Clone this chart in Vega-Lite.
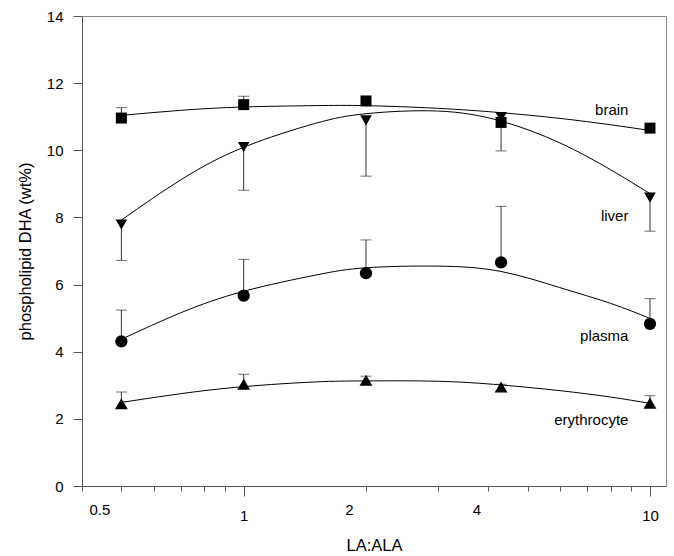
{
  "$schema": "https://vega.github.io/schema/vega-lite/v6.json",
  "width": 584,
  "height": 470,
  "autosize": {"type": "none"},
  "padding": {"left": 82, "top": 16, "right": 8, "bottom": 70},
  "background": "white",
  "config": {
    "view": {"stroke": "#888", "strokeWidth": 1},
    "font": "Liberation Sans",
    "axis": {"grid": false, "domainColor": "#555", "tickColor": "#555", "labelColor": "#000", "titleColor": "#000", "labelFontSize": 15, "titleFontSize": 16.5, "titleFontWeight": "normal", "labelFont": "Liberation Sans", "titleFont": "Liberation Sans"}
  },
  "datasets": {
    "points": [
      {"series": "brain", "x": 0.5, "y": 10.96, "err": 11.27},
      {"series": "brain", "x": 1, "y": 11.36, "err": 11.61},
      {"series": "brain", "x": 2, "y": 11.47, "err": null},
      {"series": "brain", "x": 4.3, "y": 10.83, "err": null},
      {"series": "brain", "x": 10, "y": 10.66, "err": null},
      {"series": "liver", "x": 0.5, "y": 7.79, "err": 6.72},
      {"series": "liver", "x": 1, "y": 10.1, "err": 8.81},
      {"series": "liver", "x": 2, "y": 10.89, "err": 9.23},
      {"series": "liver", "x": 4.3, "y": 10.99, "err": 9.98},
      {"series": "liver", "x": 10, "y": 8.59, "err": 7.59},
      {"series": "plasma", "x": 0.5, "y": 4.31, "err": 5.24},
      {"series": "plasma", "x": 1, "y": 5.67, "err": 6.75},
      {"series": "plasma", "x": 2, "y": 6.34, "err": 7.33},
      {"series": "plasma", "x": 4.3, "y": 6.66, "err": 8.33},
      {"series": "plasma", "x": 10, "y": 4.83, "err": 5.58},
      {"series": "erythrocyte", "x": 0.5, "y": 2.45, "err": 2.8},
      {"series": "erythrocyte", "x": 1, "y": 3.03, "err": 3.33},
      {"series": "erythrocyte", "x": 2, "y": 3.15, "err": 3.27},
      {"series": "erythrocyte", "x": 4.3, "y": 2.95, "err": 3.03},
      {"series": "erythrocyte", "x": 10, "y": 2.47, "err": 2.69}
    ],
    "curves": [
      {"series": "brain", "x": 0.5, "y": 11.04},
      {"series": "brain", "x": 0.7, "y": 11.19},
      {"series": "brain", "x": 1, "y": 11.29},
      {"series": "brain", "x": 1.5, "y": 11.33},
      {"series": "brain", "x": 2, "y": 11.33},
      {"series": "brain", "x": 3, "y": 11.25},
      {"series": "brain", "x": 4.3, "y": 11.12},
      {"series": "brain", "x": 6, "y": 10.95},
      {"series": "brain", "x": 8, "y": 10.76},
      {"series": "brain", "x": 10, "y": 10.59},
      {"series": "liver", "x": 0.5, "y": 7.92},
      {"series": "liver", "x": 0.7, "y": 9.12},
      {"series": "liver", "x": 1, "y": 10.09},
      {"series": "liver", "x": 1.5, "y": 10.8},
      {"series": "liver", "x": 2, "y": 11.09},
      {"series": "liver", "x": 3, "y": 11.17},
      {"series": "liver", "x": 4.3, "y": 10.87},
      {"series": "liver", "x": 6, "y": 10.22},
      {"series": "liver", "x": 8, "y": 9.42},
      {"series": "liver", "x": 10, "y": 8.71},
      {"series": "plasma", "x": 0.5, "y": 4.37},
      {"series": "plasma", "x": 0.7, "y": 5.16},
      {"series": "plasma", "x": 1, "y": 5.8},
      {"series": "plasma", "x": 1.5, "y": 6.28},
      {"series": "plasma", "x": 2, "y": 6.5},
      {"series": "plasma", "x": 3, "y": 6.55},
      {"series": "plasma", "x": 4.3, "y": 6.39},
      {"series": "plasma", "x": 6, "y": 5.91},
      {"series": "plasma", "x": 8, "y": 5.44},
      {"series": "plasma", "x": 10, "y": 4.99},
      {"series": "erythrocyte", "x": 0.5, "y": 2.49},
      {"series": "erythrocyte", "x": 0.7, "y": 2.75},
      {"series": "erythrocyte", "x": 1, "y": 2.96},
      {"series": "erythrocyte", "x": 1.5, "y": 3.1},
      {"series": "erythrocyte", "x": 2, "y": 3.13},
      {"series": "erythrocyte", "x": 3, "y": 3.12},
      {"series": "erythrocyte", "x": 4.3, "y": 3.01},
      {"series": "erythrocyte", "x": 6, "y": 2.84},
      {"series": "erythrocyte", "x": 8, "y": 2.65},
      {"series": "erythrocyte", "x": 10, "y": 2.46}
    ],
    "labels": [
      {"text": "brain", "x": 8.85, "y": 11.06},
      {"text": "liver", "x": 8.85, "y": 7.89},
      {"text": "plasma", "x": 8.85, "y": 4.33},
      {"text": "erythrocyte", "x": 8.85, "y": 1.81}
    ]
  },
  "encoding": {
    "x": {
      "field": "x", "type": "quantitative",
      "scale": {"type": "log", "domain": [0.4, 10.95], "nice": false},
      "axis": {
        "title": "LA:ALA",
        "values": [0.4, 0.5, 0.6, 0.7, 0.8, 0.9, 1, 2, 3, 4, 5, 6, 7, 8, 9, 10],
        "format": "~g",
        "labelExpr": "(datum.value == 0.5 || datum.value == 1 || datum.value == 2 || datum.value == 4 || datum.value == 10) ? datum.label : ''",
        "labelFlush": false,
        "labelOverlap": false,
        "tickSize": {"condition": {"test": "datum.value == 1 || datum.value == 10", "value": 10}, "value": 5},
        "labelOffset": {"condition": [{"test": "datum.value == 0.5", "value": -22}, {"test": "datum.value == 2", "value": -17}, {"test": "datum.value == 4", "value": -12}], "value": 0},
        "labelPadding": {"condition": {"test": "datum.value == 1 || datum.value == 10", "value": 12}, "value": 11},
        "titlePadding": 14
      }
    },
    "y": {
      "field": "y", "type": "quantitative",
      "scale": {"domain": [0, 14], "nice": false},
      "axis": {
        "title": "phospholipid DHA (wt%)",
        "values": [0, 2, 4, 6, 8, 10, 12, 14],
        "tickSize": 9,
        "labelPadding": 10,
        "titlePadding": 13
      }
    }
  },
  "layer": [
    {
      "data": {"name": "curves"},
      "mark": {"type": "line", "interpolate": "natural", "color": "#000", "strokeWidth": 1},
      "encoding": {"detail": {"field": "series"}}
    },
    {
      "data": {"name": "points"},
      "transform": [{"filter": "datum.err != null"}],
      "mark": {"type": "rule", "color": "#333", "strokeWidth": 1},
      "encoding": {"y2": {"field": "err"}}
    },
    {
      "data": {"name": "points"},
      "transform": [{"filter": "datum.err != null"}],
      "mark": {"type": "tick", "orient": "horizontal", "color": "#333", "size": 11, "thickness": 1},
      "encoding": {"y": {"field": "err", "type": "quantitative"}}
    },
    {
      "data": {"name": "points"},
      "mark": {"type": "point", "filled": true, "opacity": 1, "color": "#000"},
      "encoding": {
        "shape": {"field": "series", "type": "nominal", "legend": null,
          "scale": {"domain": ["brain", "liver", "plasma", "erythrocyte"], "range": ["square", "triangle-down", "circle", "triangle-up"]}},
        "size": {"field": "series", "type": "nominal", "legend": null,
          "scale": {"domain": ["brain", "liver", "plasma", "erythrocyte"], "range": [121, 165, 150, 160]}}
      }
    },
    {
      "data": {"name": "labels"},
      "mark": {"type": "text", "align": "right", "baseline": "alphabetic", "fontSize": 15, "font": "Liberation Sans", "color": "#000"},
      "encoding": {"text": {"field": "text"}}
    }
  ]
}
